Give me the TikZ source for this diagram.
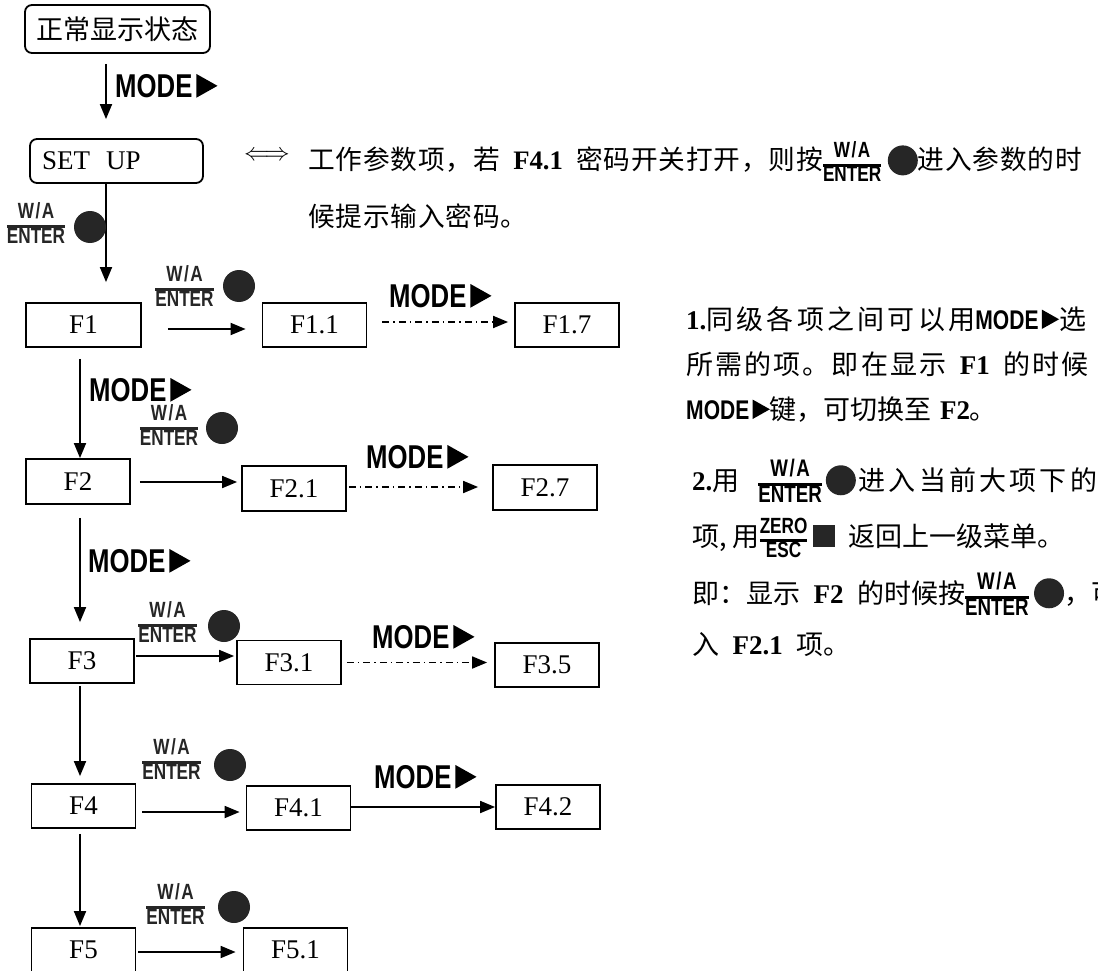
\documentclass[tikz,border=0pt]{standalone}
\usepackage{fontspec}
\setmainfont{Liberation Serif}
\newfontfamily\cjk{Noto Sans CJK SC}
\newfontfamily\keyfont[FakeStretch=0.78]{Liberation Sans}
\usetikzlibrary{arrows.meta,positioning}

\newcommand{\lat}[1]{{\rmfamily\bfseries #1}}
\newcommand{\playsym}{\tikz[baseline=0pt]\fill (0,0) -- (0,0.72em) -- (0.64em,0.36em) -- cycle;}
\newcommand{\modekey}{{\keyfont\bfseries MODE}\hspace{0.12em}\playsym}
\newcommand{\keyfrac}[3][22]{{\keyfont\bfseries\fontsize{#1}{#1}\selectfont
	\setlength{\arrayrulewidth}{3pt}\renewcommand{\arraystretch}{0.9}%
	\begin{tabular}[c]{@{}c@{}}#2\\\hline #3\end{tabular}}}
\newcommand{\wakey}{W\kern1.5pt/\kern1.5pt A}
\newcommand{\knob}{\tikz[baseline=-0.36em]\fill[black!85] (0,0) circle (15pt);}
\newcommand{\escsq}{\tikz[baseline=-0.36em]\fill[black!85] (-11pt,-11pt) rectangle (11pt,11pt);}

\begin{document}
\begin{tikzpicture}[
	x=1pt, y=-1pt,
	fbox/.style={draw, line width=1.8pt, minimum width=104pt, minimum height=44pt,
		inner sep=0pt, font=\fontsize{27}{27}\selectfont},
	state/.style={fbox, rounded corners=7pt},
	flow/.style={line width=1.8pt, -{Triangle[length=15pt,width=12pt]}},
	modeflow/.style={flow, dash pattern=on 7pt off 4pt on 1.5pt off 4pt},
	modelbl/.style={anchor=west, inner sep=0pt, font=\fontsize{33}{33}\selectfont},
	keylbl/.style={inner sep=0pt, text=black!85},
	knobnode/.style={circle, fill=black!85, minimum size=32pt, inner sep=0pt},
	note/.style={anchor=base west, inner sep=0pt, font=\cjk\fontsize{26.7}{26.7}\selectfont},
	rnote/.style={note, font=\cjk\fontsize{27}{27}\selectfont}
	]
	\useasboundingbox (0,0) rectangle (1098,971);
	\clip (0,0) rectangle (1098,971);
	% states
	\node[state, minimum width=185pt, minimum height=48pt,
		font=\cjk\fontsize{27}{27}\selectfont] (normal) at (117.5,29) {正常显示状态};
	\node[state, text width=149pt, align=left, inner xsep=12pt] (setup) at (116.5,161)
		{SET\hspace{0.6em}UP};
	% menu items
	\node[fbox, minimum width=115pt] (f1) at (83.5,325) {F1};
	\node[fbox] (f11) at (314.5,325) {F1.1};
	\node[fbox] (f17) at (567,325) {F1.7};
	\node[fbox, minimum height=45pt] (f2) at (78,481.5) {F2};
	\node[fbox, minimum height=45pt] (f21) at (294,488.5) {F2.1};
	\node[fbox, minimum height=45pt] (f27) at (545,487.5) {F2.7};
	\node[fbox] (f3) at (82,661) {F3};
	\node[fbox] (f31) at (289,662.5) {F3.1};
	\node[fbox] (f35) at (547,665) {F3.5};
	\node[fbox] (f4) at (83.5,806) {F4};
	\node[fbox] (f41) at (298.5,808) {F4.1};
	\node[fbox] (f42) at (548,807) {F4.2};
	\node[fbox] (f5) at (83.5,950) {F5};
	\node[fbox] (f51) at (295.5,950) {F5.1};
	% down the menu
	\draw[flow, shorten <=10pt, shorten >=19pt] ([xshift=-11.5pt]normal.south)
		-- ([xshift=-11.5pt]normal.south |- setup.north);
	\draw[flow, shorten >=20pt] ([xshift=-10.5pt]setup.south)
		-- ([xshift=-10.5pt]setup.south |- f1.north);
	\draw[flow, shorten <=11pt] ([xshift=-3.5pt]f1.south) -- ([xshift=-3.5pt]f1.south |- f2.north);
	\draw[flow, shorten <=13pt, shorten >=16pt] ([xshift=2pt]f2.south) -- ([xshift=2pt]f2.south |- f3.north);
	\draw[flow, shorten <=2pt, shorten >=7pt] ([xshift=-2pt]f3.south) -- ([xshift=-2pt]f3.south |- f4.north);
	\draw[flow, shorten <=5pt, shorten >=1pt] ([xshift=-3.5pt]f4.south) -- ([xshift=-3.5pt]f4.south |- f5.north);
	% into the sub items
	\draw[flow, shorten <=26pt, shorten >=16pt] ([yshift=-4pt]f1.east) -- ([yshift=-4pt]f1.east -| f11.west);
	\draw[modeflow, shorten <=15pt, shorten >=6pt] ([yshift=3pt]f11.east) -- ([yshift=3pt]f11.east -| f17.west);
	\draw[flow, shorten <=9pt, shorten >=4pt] ([yshift=-0.5pt]f2.east) -- ([yshift=-0.5pt]f2.east -| f21.west);
	\draw[modeflow, shorten <=2pt, shorten >=14pt] ([yshift=1.5pt]f21.east) -- ([yshift=1.5pt]f21.east -| f27.west);
	\draw[flow, shorten <=1pt, shorten >=2pt] ([yshift=5pt]f3.east) -- ([yshift=5pt]f3.east -| f31.west);
	\draw[modeflow, shorten <=5pt, shorten >=7pt] (f31.east) -- (f31.east -| f35.west);
	\draw[flow, shorten <=6pt, shorten >=6pt] ([yshift=-6pt]f4.east) -- ([yshift=-6pt]f4.east -| f41.west);
	\draw[flow] ([yshift=1pt]f41.east) -- ([yshift=1pt]f41.east -| f42.west);
	\draw[flow, shorten <=2pt, shorten >=7pt] ([yshift=-2pt]f5.east) -- ([yshift=-2pt]f5.east -| f51.west);
	% key labels
	\node[modelbl] (mode0) at (115,86) {\modekey};
	\node[modelbl] (mode1) at (389,296) {\modekey};
	\node[modelbl] (mode12) at (89,390) {\modekey};
	\node[modelbl] (mode2) at (366,457) {\modekey};
	\node[modelbl] (mode23) at (88,561) {\modekey};
	\node[modelbl] (mode3) at (372,637) {\modekey};
	\node[modelbl] (mode4) at (374,777) {\modekey};
	\foreach \n/\x/\y/\kx/\ky in {0/36/226/90/227, 1/184.5/289/239/286, 2/169/428/222/428,
		3/167.5/625/224/626, 4/171.5/762/230/765, 5/175.5/907/234/907}{
		\node[keylbl] (wa\n) at (\x,\y) {\keyfrac{\wakey}{ENTER}};
		\node[knobnode] (knob\n) at (\kx,\ky) {};
	}
	% notes
	\node[inner sep=0pt, font=\fontsize{28}{28}\selectfont] (iff) at (267,156) {$\Longleftrightarrow$};
	\node[note] (note0) at (308,170) {\addfontfeature{LetterSpace=3}工作参数项，若\hspace{0.5em}\lat{F4.1}\hspace{0.5em}密码开关打开，则按\keyfrac{\wakey}{ENTER}\hspace{0.25em}\knob 进入参数的时};
	\node[note] (note1) at (308,226) {\addfontfeature{LetterSpace=3}候提示输入密码。};
	\node[rnote] (tip1) at (686,329) {\addfontfeature{LetterSpace=12}\lat{1.}同级各项之间可以用\modekey 选};
	\node[rnote] (tip2) at (686,374) {\addfontfeature{LetterSpace=8}所需的项。即在显示\hspace{0.5em}\lat{F1}\hspace{0.5em}的时候};
	\node[rnote] (tip3) at (686,419) {\modekey 键，可切换至\hspace{0.3em}\lat{F2}。};
	\node[rnote] (tip4) at (692,490) {\addfontfeature{LetterSpace=12}\lat{2.}用\hspace{0.7em}\keyfrac[24]{\wakey}{ENTER}\hspace{0.15em}\knob\hspace{0.1em}进入当前大项下的};
	\node[rnote] (tip5) at (692,546) {项, 用\keyfrac[22]{ZERO}{ESC}\hspace{0.2em}\escsq\hspace{0.5em}返回上一级菜单。};
	\node[rnote] (tip6) at (692,603) {即：显示\hspace{0.5em}\lat{F2}\hspace{0.5em}的时候按\keyfrac[24]{\wakey}{ENTER}\hspace{0.2em}\knob，可};
	\node[rnote] (tip7) at (692,654) {入\hspace{0.5em}\lat{F2.1}\hspace{0.5em}项。};
\end{tikzpicture}
\end{document}
